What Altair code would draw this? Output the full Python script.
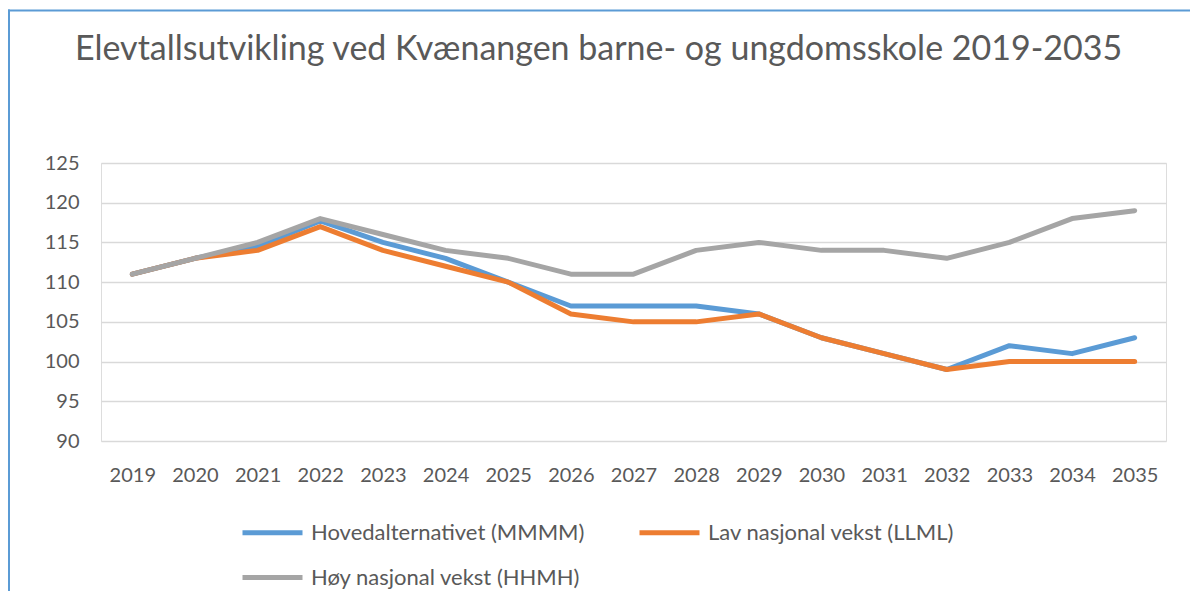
import altair as alt
import pandas as pd

years = [str(y) for y in range(2019, 2036)]
series_names = ["Hovedalternativet (MMMM)", "Lav nasjonal vekst (LLML)", "Høy nasjonal vekst (HHMH)"]
mmmm = [111, 113, 114.5, 117.7, 115, 113, 110, 107, 107, 107, 106, 103, 101, 99, 102, 101, 103]
llml = [111, 113, 114, 117, 114, 112, 110, 106, 105, 105, 106, 103, 101, 99, 100, 100, 100]
hhmh = [111, 113, 115, 118, 116, 114, 113, 111, 111, 114, 115, 114, 114, 113, 115, 118, 119]
colors = ["#5B9BD5", "#ED7D31", "#A5A5A5"]
y_ticks = [90, 95, 100, 105, 110, 115, 120, 125]

rows = []
for name, vals in zip(series_names, [mmmm, llml, hhmh]):
    for yr, v in zip(years, vals):
        rows.append({"År": yr, "Serie": name, "Elever": v})
df = pd.DataFrame(rows)

FONT = "Lato"
TXT = "#595959"

lines = alt.Chart(df).mark_line(strokeWidth=5, strokeCap="round", strokeJoin="round").encode(
    x=alt.X("År:O", sort=years, title=None,
            axis=alt.Axis(labelAngle=0, ticks=False, domain=False, grid=False,
                          labelFont=FONT, labelFontSize=20, labelColor=TXT, labelPadding=24)),
    y=alt.Y("Elever:Q", title=None,
            scale=alt.Scale(domain=[90, 125], nice=False, zero=False),
            axis=alt.Axis(values=y_ticks, ticks=False, domain=False, gridColor="#D9D9D9",
                          gridWidth=1.3, labelFont=FONT, labelFontSize=20, labelColor=TXT,
                          labelPadding=22)),
    color=alt.Color("Serie:N", sort=series_names,
                    scale=alt.Scale(domain=series_names, range=colors),
                    legend=alt.Legend(title=None, orient="none", legendX=139, legendY=337,
                                      columns=2, direction="horizontal", symbolType="stroke",
                                      symbolSize=3600, symbolStrokeWidth=5, labelOffset=6,
                                      labelFont=FONT, labelFontSize=22, labelColor=TXT,
                                      columnPadding=44, rowPadding=1, padding=0,
                                      labelLimit=400)),
    order=alt.Order("Serie:N"),
    detail="Serie:N",
)

frame_data = alt.Data(values=[{"k": 1}])
top_border = alt.Chart(frame_data).mark_rule(color="#5B9BD5", strokeWidth=2).encode(
    x=alt.value(-93), x2=alt.value(1089), y=alt.value(-152.5))
left_border = alt.Chart(frame_data).mark_rule(color="#5B9BD5", strokeWidth=2).encode(
    x=alt.value(-92), y=alt.value(-153.5), y2=alt.value(430))

chart = alt.layer(lines, top_border, left_border).properties(
    width=1065, height=278,
    autosize=alt.AutoSizeParams(type="none"),
    padding={"left": 93, "top": 155, "right": 24, "bottom": 150},
    title=alt.Title("Elevtallsutvikling ved Kvænangen barne- og ungdomsskole 2019-2035",
                    anchor="start", frame="group", dx=-26, offset=-85, baseline="alphabetic",
                    font=FONT, fontSize=34, fontWeight="normal", color=TXT),
).configure_view(stroke=None).configure(background="white")

chart.save("out.html", embed_options={"renderer": "svg", "actions": False})
